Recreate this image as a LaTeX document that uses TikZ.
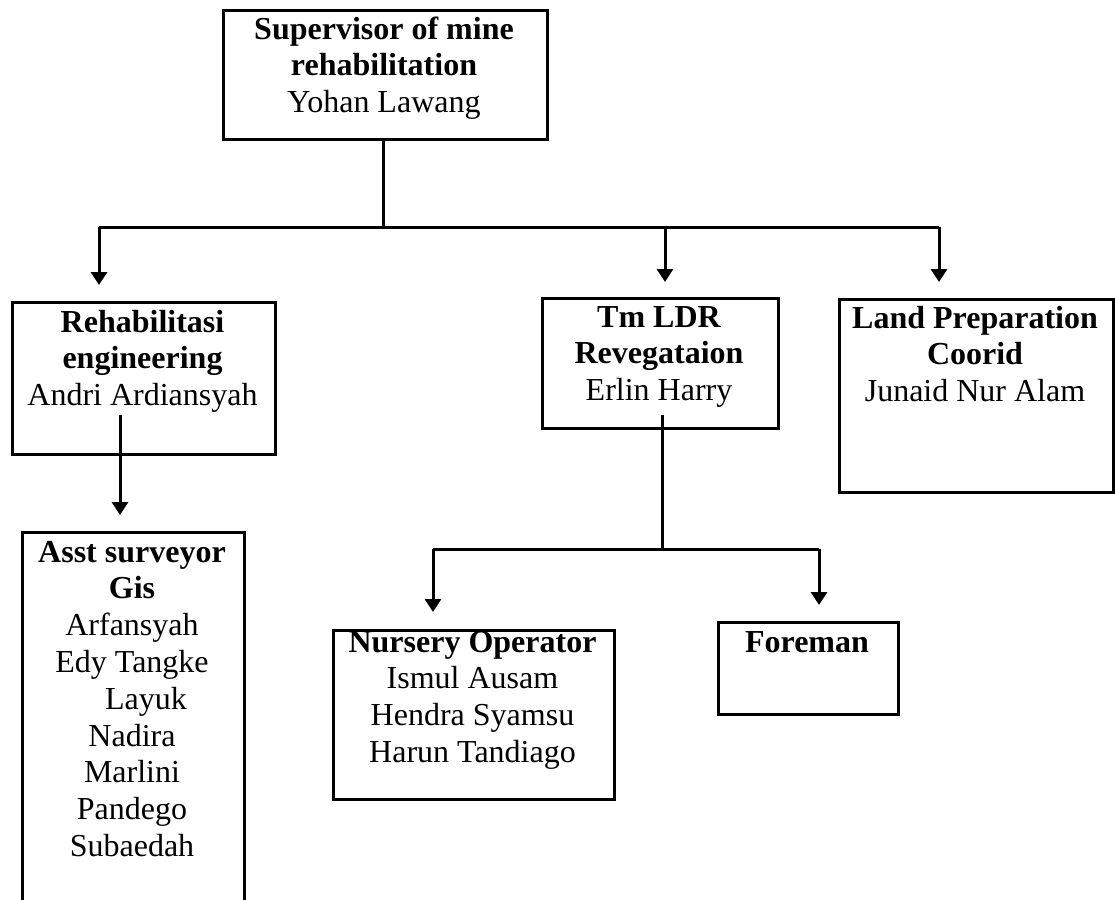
\documentclass[tikz,border=0pt]{standalone}
\usepackage{fontspec}
\setmainfont{Liberation Serif}
\usetikzlibrary{arrows.meta}
\tikzset{
  box/.style={draw=black, line width=2.6pt, inner sep=0pt, anchor=north west},
  lbl/.style={anchor=north, inner sep=0pt, align=center,
    font=\fontsize{32}{36.8}\selectfont},
  conn/.style={line width=3pt, black},
  arr/.style={conn, -{Triangle[width=16pt,length=13pt]}}
}
\begin{document}
\begin{tikzpicture}[x=1pt,y=-1pt]
\useasboundingbox (0,0) rectangle (1115,899);
% boxes
\node[box, minimum width=324pt, minimum height=129pt] (top) at (222,9) {};
\node[box, minimum width=263pt, minimum height=152pt] (reh) at (11,301) {};
\node[box, minimum width=236pt, minimum height=130pt] (tm) at (541,297) {};
\node[box, minimum width=274pt, minimum height=193pt] (land) at (838,298) {};
\node[box, minimum width=222pt, minimum height=380pt] (asst) at (21,531) {};
\node[box, minimum width=281pt, minimum height=169pt] (nur) at (332,629) {};
\node[box, minimum width=180pt, minimum height=92pt] (fore) at (717,621) {};
% texts
\node[lbl] (topT) at (384,13.2) {\strut\bfseries Supervisor of mine\\\strut\bfseries rehabilitation\\\strut Yohan Lawang};
\node[lbl] (rehT) at (142.5,306.2) {\strut\bfseries Rehabilitasi\\\strut\bfseries engineering\\\strut Andri Ardiansyah};
\node[lbl] (tmT) at (659,301.2) {\strut\bfseries Tm LDR\\\strut\bfseries Revegataion\\\strut Erlin Harry};
\node[lbl] (landT) at (975,302.2) {\strut\bfseries Land Preparation\\\strut\bfseries Coorid\\\strut Junaid Nur Alam};
\node[lbl] (asstT) at (132,536.2) {\strut\bfseries Asst surveyor\\\strut\bfseries Gis\\\strut Arfansyah\\\strut Edy Tangke\\\strut\hspace*{28pt}Layuk\\\strut Nadira\\\strut Marlini\\\strut Pandego\\\strut Subaedah};
\node[lbl] (nurT) at (472.5,626.2) {\strut\bfseries Nursery Operator\\\strut Ismul Ausam\\\strut Hendra Syamsu\\\strut Harun Tandiago};
\node[lbl] (foreT) at (807,626.2) {\strut\bfseries Foreman};
% connector points
\coordinate (j1) at (383,227);
\coordinate (b1L) at (99,227);
\coordinate (b1M) at (665,227);
\coordinate (b1R) at (939,227);
\coordinate (a1) at (99,285);
\coordinate (a2) at (665,282);
\coordinate (a3) at (939,282);
\coordinate (r0) at (120,415);
\coordinate (r1) at (120,515);
\coordinate (t0) at (662,415);
\coordinate (j2) at (662,549);
\coordinate (b2L) at (433,549);
\coordinate (b2R) at (819,549);
\coordinate (a4) at (433,612);
\coordinate (a5) at (819,605);
% connectors
\draw[conn] (top.south -| j1) -- (j1);
\draw[conn] (b1L) -- (b1R);
\draw[arr] (b1L) -- (a1);
\draw[arr] (b1M) -- (a2);
\draw[arr] (b1R) -- (a3);
\draw[arr] (r0) -- (r1);
\draw[conn] (t0) -- (j2);
\draw[conn] (b2L) -- (b2R);
\draw[arr] (b2L) -- (a4);
\draw[arr] (b2R) -- (a5);
\end{tikzpicture}
\end{document}
